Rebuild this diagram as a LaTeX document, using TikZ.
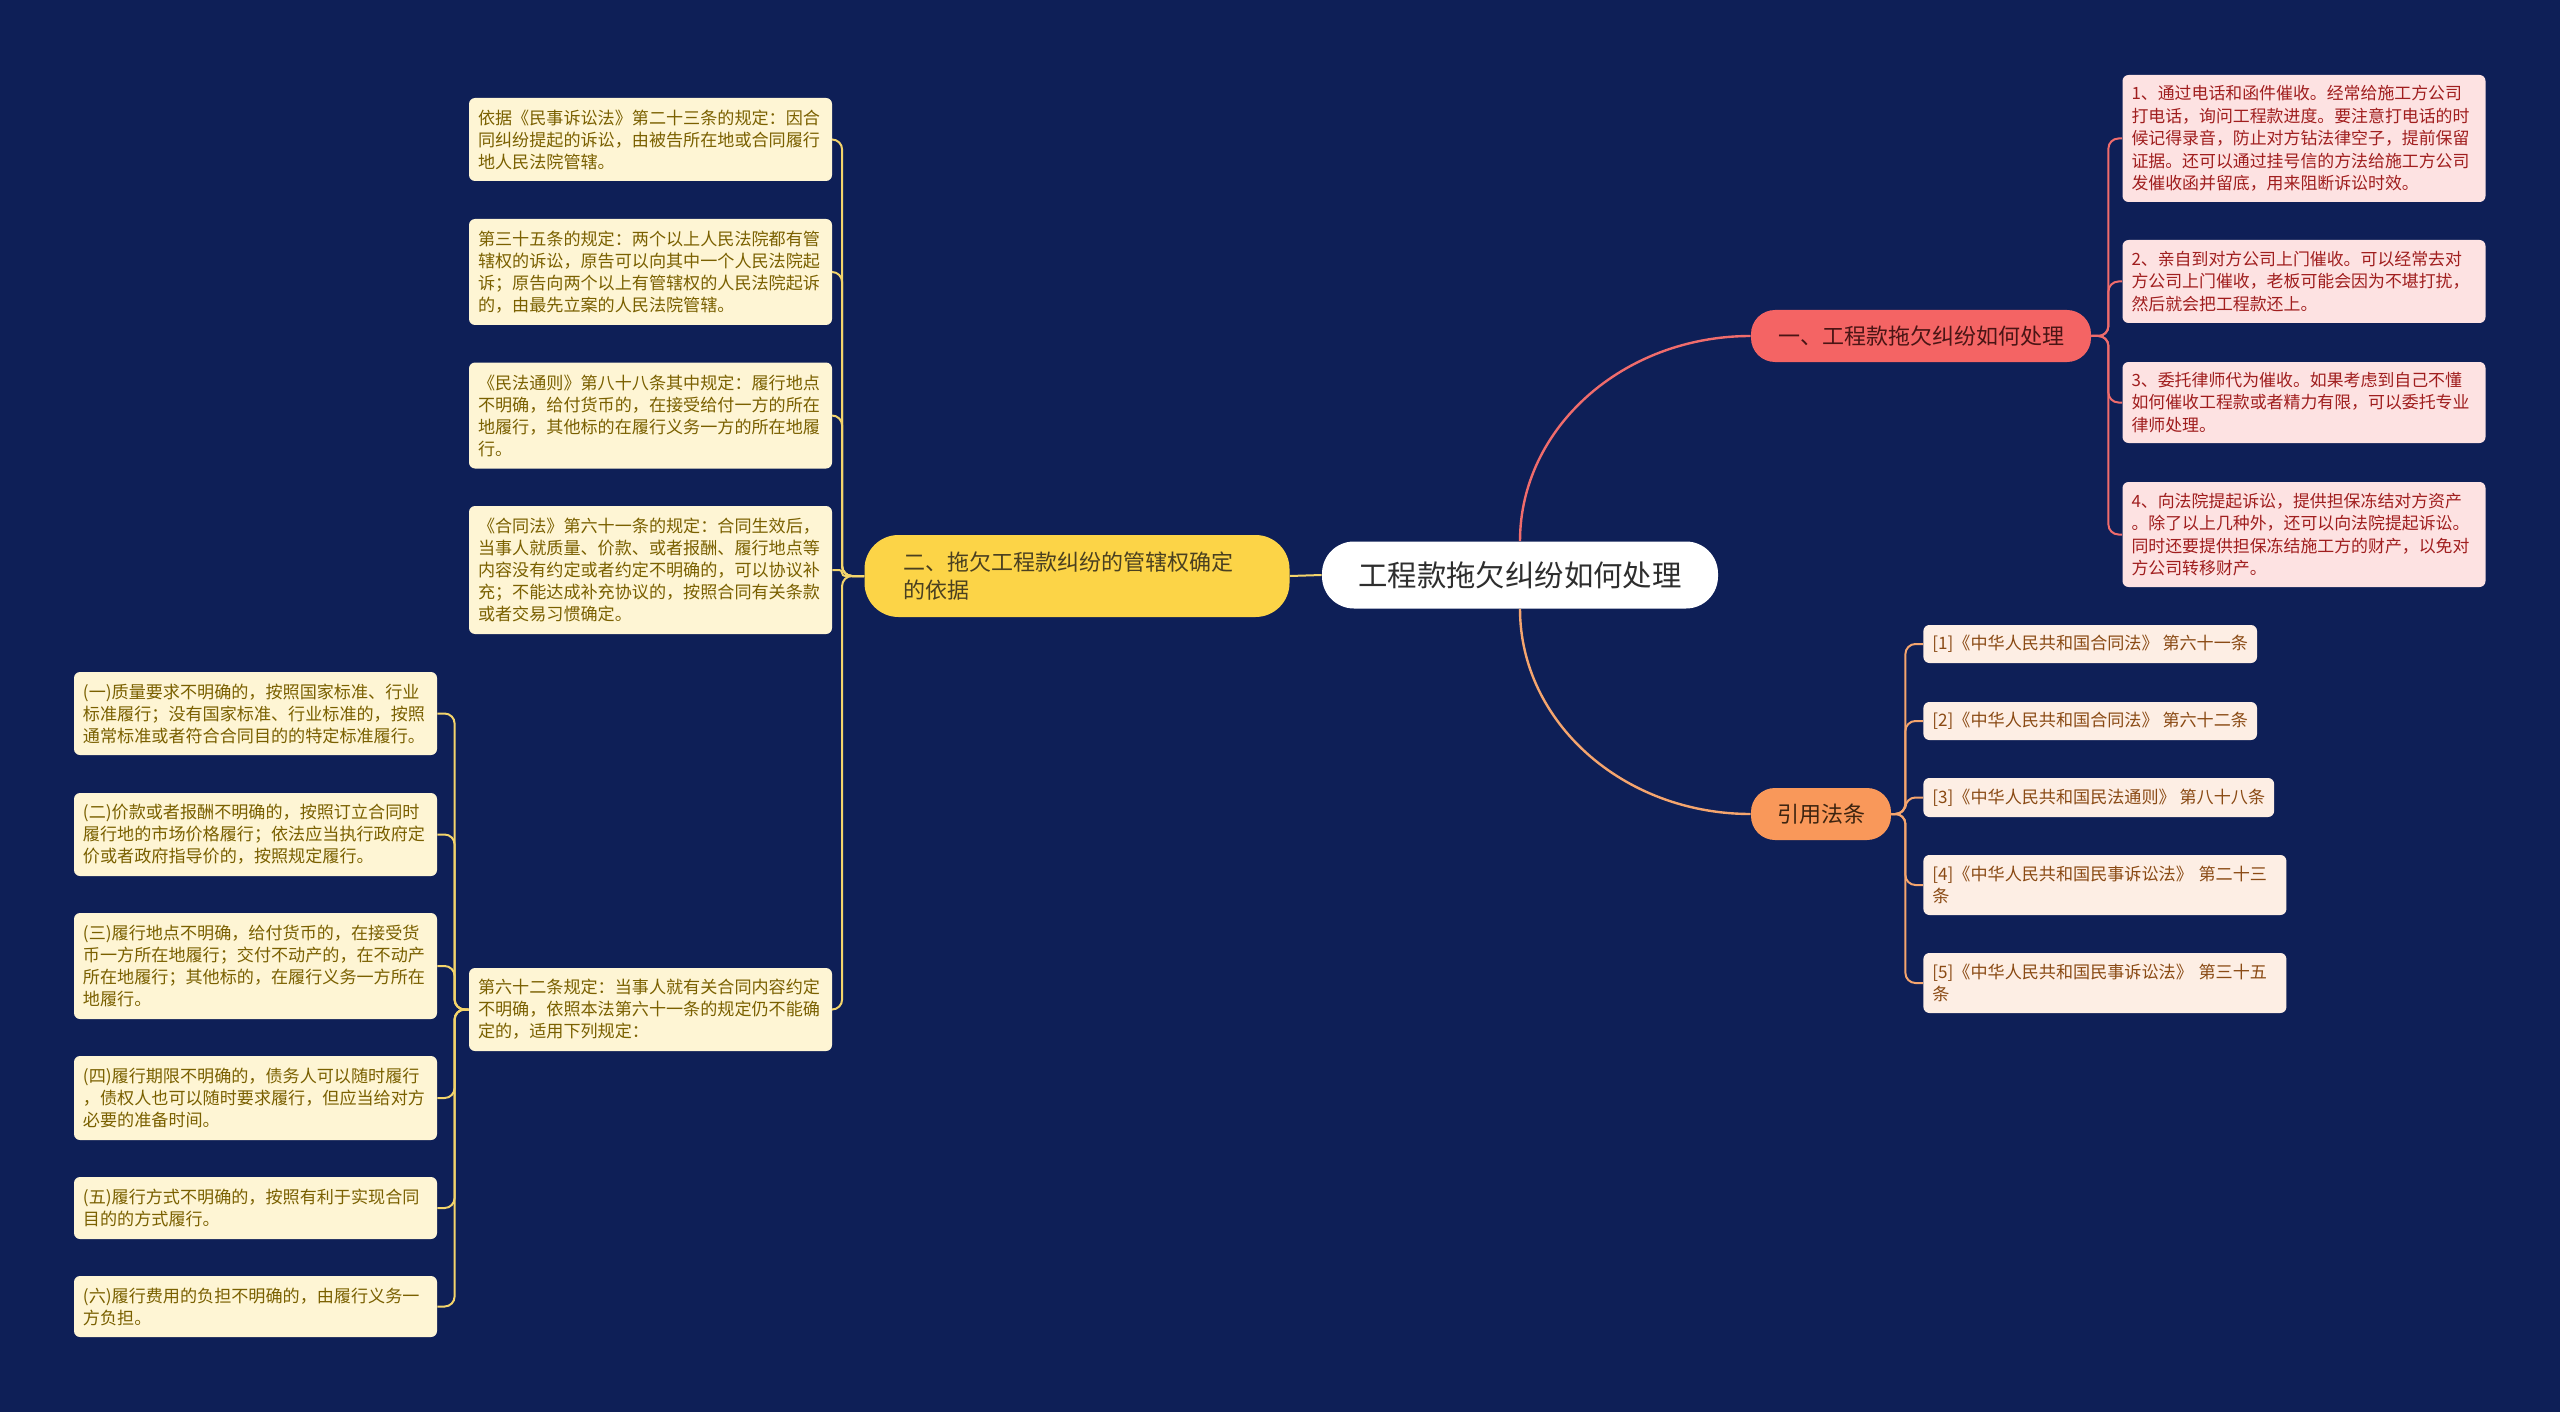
\documentclass[tikz,border=0pt]{standalone}
\usepackage{fontspec}
\setmainfont{Noto Sans CJK SC}
\usepackage{tikz}
\definecolor{mapnavy}{HTML}{0E1F57}
\definecolor{rootink}{HTML}{2E2E2E}
\definecolor{jurfill}{HTML}{FCD447}
\definecolor{jurink}{HTML}{4A4020}
\definecolor{howfill}{HTML}{F46464}
\definecolor{howink}{HTML}{4A1515}
\definecolor{lawfill}{HTML}{F9985A}
\definecolor{lawink}{HTML}{3D2410}
\definecolor{yleaffill}{HTML}{FEF5D4}
\definecolor{yleafink}{HTML}{7A6000}
\definecolor{rleaffill}{HTML}{FDE2E2}
\definecolor{rleafink}{HTML}{A01E1E}
\definecolor{oleaffill}{HTML}{FDEEE4}
\definecolor{oleafink}{HTML}{8A4A14}
\definecolor{ylinkc}{HTML}{F3D46B}
\definecolor{rlinkc}{HTML}{F06C6C}
\definecolor{olinkc}{HTML}{F5A56E}
\tikzset{
  rootbox/.style={fill=white,text=rootink,rounded corners=16pt,minimum width=198pt,minimum height=33.5pt,inner sep=0pt,font=\fontsize{14.7}{17}\selectfont},
  branchbox/.style={rounded corners=12pt,minimum height=26pt,inner sep=0pt,font=\fontsize{11}{13.6}\selectfont},
  leafbox/.style={rounded corners=3pt,align=left,inner xsep=4.5pt,inner ysep=0pt,font=\fontsize{8.55}{11}\selectfont},
  yleaf/.style={leafbox,fill=yleaffill,text=yleafink,text width=172.5pt},
  rleaf/.style={leafbox,fill=rleaffill,text=rleafink,text width=172.5pt,font=\fontsize{8.45}{11.2}\selectfont},
  oleaf/.style={leafbox,fill=oleaffill,text=oleafink,anchor=west},
  ylink/.style={draw=ylinkc,line width=1pt,rounded corners=5pt},
  rlink/.style={draw=rlinkc,line width=1pt,rounded corners=5pt},
  olink/.style={draw=olinkc,line width=1pt,rounded corners=5pt}
}

\begin{document}
\begin{tikzpicture}[x=0.5pt,y=-0.5pt]
\fill[mapnavy] (0,0) rectangle (2560,1412);
\useasboundingbox (0,0) rectangle (2560,1412);
% centre and first level
\node[rootbox] (root) at (1520,575) {工程款拖欠纠纷如何处理};
\node[branchbox,fill=jurfill,text=jurink,align=left,text width=173.5pt,inner xsep=19.5pt,minimum height=41pt,rounded corners=17pt] (jur) at (1077,576) {二、拖欠工程款纠纷的管辖权确定\\的依据};
\node[branchbox,fill=howfill,text=howink,minimum width=170pt] (how) at (1921,336) {一、工程款拖欠纠纷如何处理};
\node[branchbox,fill=lawfill,text=lawink,minimum width=70pt] (law) at (1821,814) {引用法条};
% left side
\node[yleaf,minimum height=41.5pt] (l1) at (650.5,139.5) {依据《民事诉讼法》第二十三条的规定：因合\\同纠纷提起的诉讼，由被告所在地或合同履行\\地人民法院管辖。};
\node[yleaf,minimum height=53pt] (l2) at (650.5,272) {第三十五条的规定：两个以上人民法院都有管\\辖权的诉讼，原告可以向其中一个人民法院起\\诉；原告向两个以上有管辖权的人民法院起诉\\的，由最先立案的人民法院管辖。};
\node[yleaf,minimum height=53pt] (l3) at (650.5,415.5) {《民法通则》第八十八条其中规定：履行地点\\不明确，给付货币的，在接受给付一方的所在\\地履行，其他标的在履行义务一方的所在地履\\行。};
\node[yleaf,minimum height=64pt] (l4) at (650.5,570) {《合同法》第六十一条的规定：合同生效后，\\当事人就质量、价款、或者报酬、履行地点等\\内容没有约定或者约定不明确的，可以协议补\\充；不能达成补充协议的，按照合同有关条款\\或者交易习惯确定。};
\node[yleaf,minimum height=41.5pt] (l5) at (650.5,1009.5) {第六十二条规定：当事人就有关合同内容约定\\不明确，依照本法第六十一条的规定仍不能确\\定的，适用下列规定：};
\node[yleaf,minimum height=41.5pt] (c1) at (255.5,713.5) {(一)质量要求不明确的，按照国家标准、行业\\标准履行；没有国家标准、行业标准的，按照\\通常标准或者符合合同目的的特定标准履行。};
\node[yleaf,minimum height=41.5pt] (c2) at (255.5,834.5) {(二)价款或者报酬不明确的，按照订立合同时\\履行地的市场价格履行；依法应当执行政府定\\价或者政府指导价的，按照规定履行。};
\node[yleaf,minimum height=53pt] (c3) at (255.5,966) {(三)履行地点不明确，给付货币的，在接受货\\币一方所在地履行；交付不动产的，在不动产\\所在地履行；其他标的，在履行义务一方所在\\地履行。};
\node[yleaf,minimum height=42pt] (c4) at (255.5,1098) {(四)履行期限不明确的，债务人可以随时履行\\，债权人也可以随时要求履行，但应当给对方\\必要的准备时间。};
\node[yleaf,minimum height=31pt] (c5) at (255.5,1208) {(五)履行方式不明确的，按照有利于实现合同\\目的的方式履行。};
\node[yleaf,minimum height=30.5pt] (c6) at (255.5,1306.5) {(六)履行费用的负担不明确的，由履行义务一\\方负担。};
% right side
\node[rleaf,minimum height=63.5pt] (r1) at (2304,138.5) {1、通过电话和函件催收。经常给施工方公司\\打电话，询问工程款进度。要注意打电话的时\\候记得录音，防止对方钻法律空子，提前保留\\证据。还可以通过挂号信的方法给施工方公司\\发催收函并留底，用来阻断诉讼时效。};
\node[rleaf,minimum height=41.5pt] (r2) at (2304,281.5) {2、亲自到对方公司上门催收。可以经常去对\\方公司上门催收，老板可能会因为不堪打扰，\\然后就会把工程款还上。};
\node[rleaf,minimum height=40.5pt] (r3) at (2304,402.5) {3、委托律师代为催收。如果考虑到自己不懂\\如何催收工程款或者精力有限，可以委托专业\\律师处理。};
\node[rleaf,minimum height=52.5pt] (r4) at (2304,534.5) {4、向法院提起诉讼，提供担保冻结对方资产\\。除了以上几种外，还可以向法院提起诉讼。\\同时还要提供担保冻结施工方的财产，以免对\\方公司转移财产。};
\node[oleaf,minimum height=19pt] (o1) at (1923,644) {[1]《中华人民共和国合同法》 第六十一条};
\node[oleaf,minimum height=19pt] (o2) at (1923,721) {[2]《中华人民共和国合同法》 第六十二条};
\node[oleaf,minimum height=19.5pt] (o3) at (1923,797.5) {[3]《中华人民共和国民法通则》 第八十八条};
\node[oleaf,minimum height=30pt,text width=172.5pt] (o4) at (1923,885) {[4]《中华人民共和国民事诉讼法》 第二十三\\条};
\node[oleaf,minimum height=30pt,text width=172.5pt] (o5) at (1923,983) {[5]《中华人民共和国民事诉讼法》 第三十五\\条};
% connectors
\draw[ylinkc,line width=1pt] (root.west) -- (jur.east);
\draw[rlinkc,line width=1.2pt] (root.north) .. controls (1520,428) and (1623,336) .. (how.west);
\draw[olinkc,line width=1.2pt] (root.south) .. controls (1520,722) and (1623,814) .. (law.west);
\foreach \n in {l1,l2,l3,l5}{\draw[ylink] (jur.west) -- ++(-22,0) |- (\n.east);}
\draw[ylink,rounded corners=1.5pt] (jur.west) -- ++(-22,0) |- (l4.east);
\foreach \n in {c1,c2,c3,c4,c5,c6}{\draw[ylink] (l5.west) -- ++(-14,0) |- (\n.east);}
\foreach \n in {r1,r2,r3,r4}{\draw[rlink] (how.east) -- ++(17,0) |- (\n.west);}
\foreach \n in {o1,o2,o3,o4,o5}{\draw[olink] (law.east) -- ++(14,0) |- (\n.west);}
\end{tikzpicture}
\end{document}
